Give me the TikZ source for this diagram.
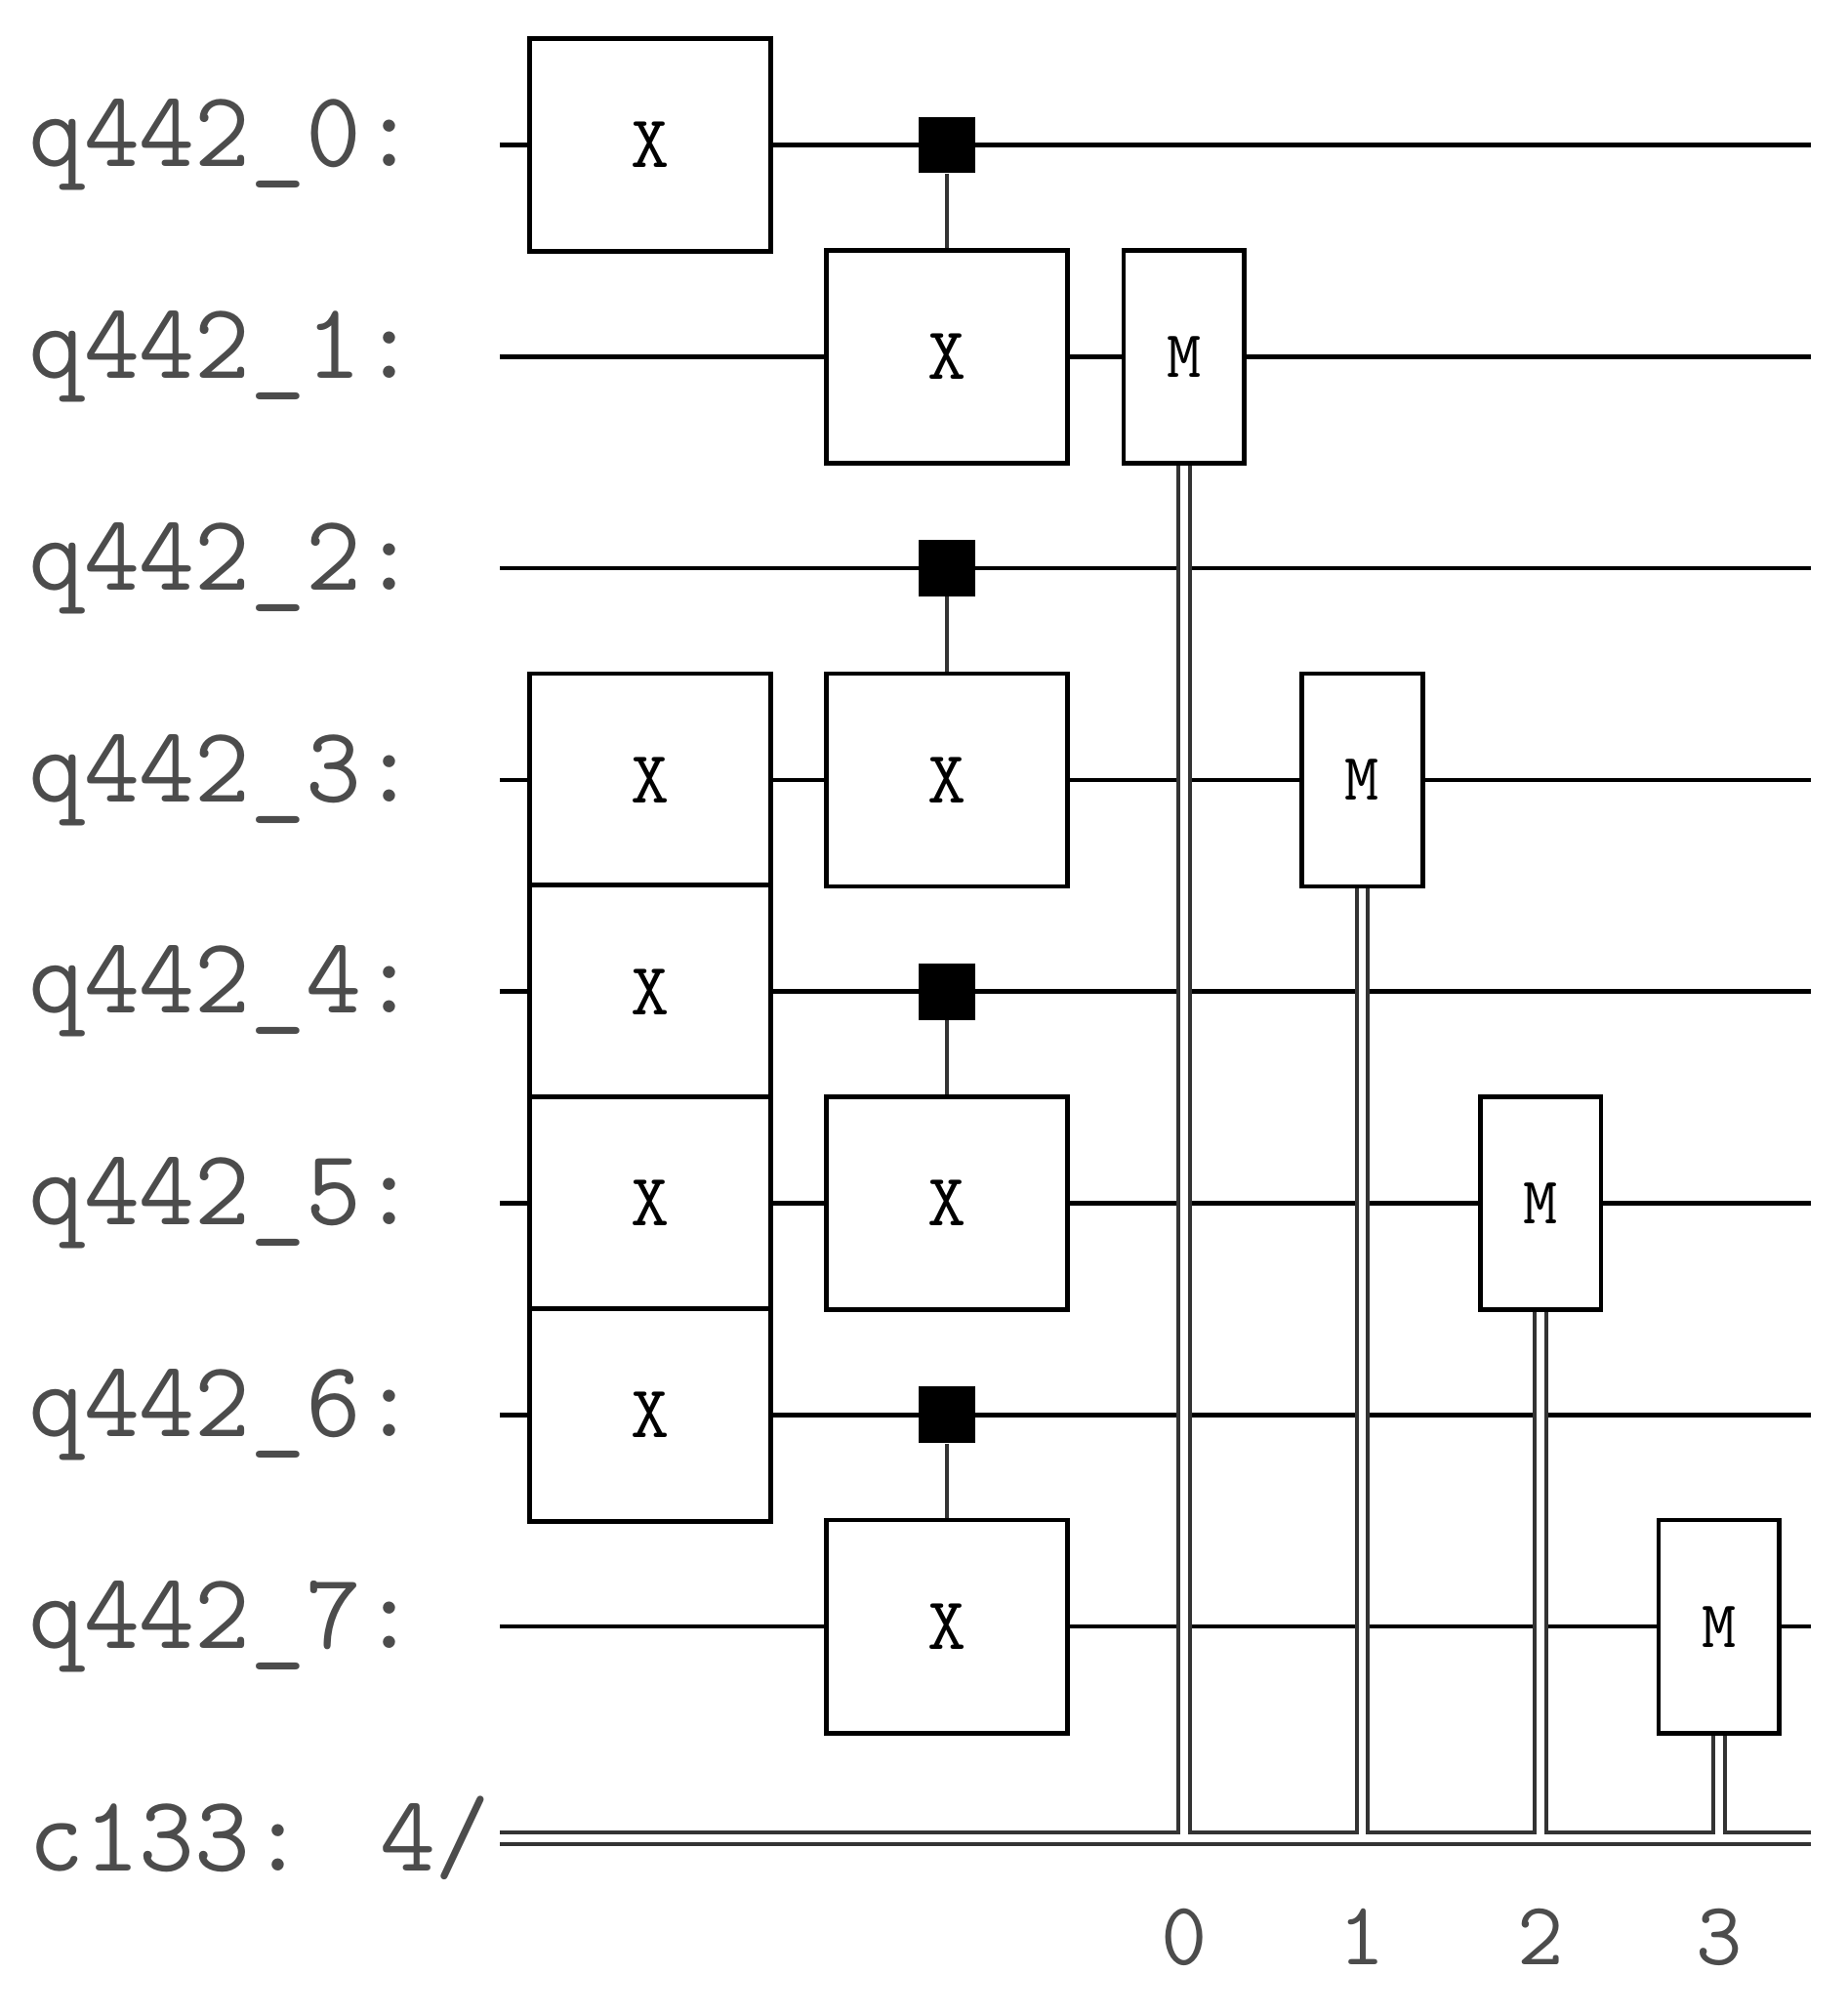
\documentclass[tikz,border=0pt]{standalone}
\begin{document}
\begin{tikzpicture}[x=1pt,y=-1pt,
  wire/.style={line width=3.5pt},
  cwire/.style={double distance=6pt,line width=3pt,draw=black!80},
  gate/.style={draw,line width=3.5pt,fill=white,minimum width=188pt,minimum height=166pt,font=\ttfamily\fontsize{58}{58}\selectfont,inner sep=0pt},
  meas/.style={draw,line width=3.5pt,fill=white,minimum width=94pt,minimum height=166pt,font=\ttfamily\fontsize{52}{52}\selectfont,inner sep=0pt},
  ctrl/.style={fill=black,minimum size=44pt,inner sep=0pt},
  lbl/.style={anchor=west,font=\ttfamily\fontsize{84}{84}\selectfont,text=black!70,inner sep=0pt},
  num/.style={font=\ttfamily\fontsize{70}{70}\selectfont,text=black!70,inner sep=0pt}]
\useasboundingbox (0,0) rectangle (1440,1570);
% wires
\foreach \i/\y in {0/113,1/278,2/443,3/608,4/773,5/938,6/1103,7/1268}{
  \coordinate (ws\i) at (390,\y); \coordinate (we\i) at (1412,\y);
  \draw[wire] (ws\i) -- (we\i);
  \node[lbl] at (22,\y) {q442\_\i:};
}
\coordinate (cs) at (390,1433); \coordinate (ce) at (1412,1433);
\draw[cwire] (cs) -- (ce);
\node[lbl] at (22,1433) {c133: 4/};
% measurement classical lines
\foreach \x/\y/\n in {923/361/0,1062/691/1,1201/1021/2,1340/1351/3}{
  \coordinate (mt\n) at (\x,\y); \coordinate (mb\n) at (\x,1430);
  \draw[cwire] (mt\n) -- (mb\n);
  \node[num] at (\x,1510) {\n};
}
% column 1 X gates
\node[gate] (a0) at (507,113) {X};
\foreach \i/\y in {3/608,4/773,5/938,6/1103}{\node[gate] (a\i) at (507,\y) {X};}
% controls and targets
\foreach \c/\t/\yc/\yt in {0/1/113/278,2/3/443/608,4/5/773/938,6/7/1103/1268}{
  \node[ctrl] (c\c) at (738,\yc) {};
  \node[gate] (b\t) at (738,\yt) {X};
  \draw[line width=3pt,draw=black!80] (c\c) -- (b\t.north);
}
% measurements
\node[meas] (m0) at (923,278) {M};
\node[meas] (m1) at (1062,608) {M};
\node[meas] (m2) at (1201,938) {M};
\node[meas] (m3) at (1340,1268) {M};
\end{tikzpicture}
\end{document}
